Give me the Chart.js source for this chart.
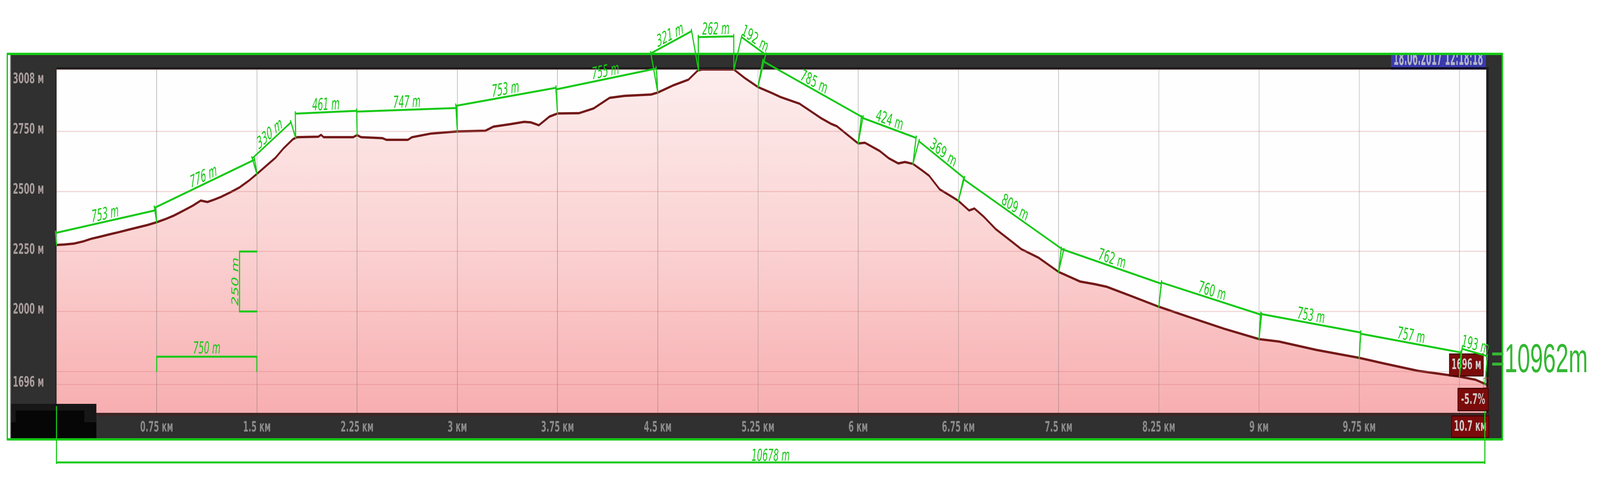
<!DOCTYPE html>
<html>
<head>
<meta charset="utf-8">
<title>Профиль высот</title>
<script src="https://cdn.jsdelivr.net/npm/chart.js@4.4.1/dist/chart.umd.min.js"></script>
<style>
  html, body { margin: 0; padding: 0; background: #fff; overflow: hidden; }
  canvas { display: block; }
</style>
</head>
<body>
<!-- o desenho é feito em 7226x1229 e esticado para a janela real -->
<canvas id="perfil" width="7226" height="1229" style="width:100vw;height:100vh"></canvas>
<script>
// ================= DADOS =================
// distância (km) e altitude (m) do perfil
const distKm = [0, 0.06, 0.13, 0.2, 0.26, 0.33, 0.4, 0.47, 0.54, 0.62, 0.68, 0.75, 0.82, 0.88, 0.95,
  1.02, 1.08, 1.13, 1.18, 1.23, 1.3, 1.37, 1.44, 1.5, 1.57, 1.64, 1.7, 1.77, 1.8, 1.96, 1.98, 2.0,
  2.22, 2.25, 2.28, 2.44, 2.47, 2.63, 2.66, 2.8, 3.0, 3.21, 3.27, 3.39, 3.5, 3.55, 3.61, 3.69, 3.75,
  3.91, 4.02, 4.14, 4.25, 4.45, 4.5, 4.62, 4.73, 4.8, 4.83, 5.07, 5.15, 5.25, 5.35, 5.42, 5.56, 5.67,
  5.72, 5.8, 5.84, 5.92, 6.0, 6.05, 6.16, 6.23, 6.3, 6.35, 6.41, 6.48, 6.53, 6.61, 6.69, 6.75, 6.83,
  6.87, 6.94, 7.03, 7.15, 7.22, 7.35, 7.5, 7.66, 7.77, 7.86, 8.05, 8.25, 8.46, 8.74, 9.0, 9.15, 9.43,
  9.75, 9.94, 10.19, 10.5, 10.62, 10.7];
const altM = [2277, 2279, 2283, 2292, 2303, 2312, 2322, 2331, 2341, 2352, 2360, 2372, 2386, 2400, 2420,
  2441, 2462, 2456, 2466, 2477, 2496, 2517, 2545, 2573, 2607, 2641, 2680, 2718, 2726, 2728, 2736, 2726,
  2726, 2735, 2726, 2722, 2715, 2715, 2726, 2741, 2750, 2753, 2770, 2780, 2790, 2788, 2776, 2812, 2825,
  2826, 2846, 2890, 2898, 2904, 2912, 2943, 2966, 3004, 3008, 3008, 2973, 2935, 2911, 2893, 2866, 2825,
  2806, 2781, 2772, 2736, 2700, 2703, 2669, 2638, 2617, 2623, 2615, 2587, 2566, 2509, 2482, 2461, 2421,
  2429, 2395, 2343, 2291, 2260, 2224, 2165, 2125, 2114, 2103, 2063, 2020, 1980, 1928, 1885, 1875, 1840,
  1807, 1783, 1753, 1729, 1716, 1696];

// ticks dos eixos
const xTicks = [0, 0.75, 1.5, 2.25, 3, 3.75, 4.5, 5.25, 6, 6.75, 7.5, 8.25, 9, 9.75, 10.5];
const yTicks = [1696, 1750, 2000, 2250, 2500, 2750, 3008];
const yRotulos = [1696, 2000, 2250, 2500, 2750, 3008];

// trechos medidos (verde): pontos no perfil (km) e comprimentos
const trechoKm = [0, 0.75, 1.5, 1.79, 2.25, 3, 3.75, 4.5, 4.805, 5.07, 5.25, 6, 6.41, 6.75, 7.5, 8.25, 9, 9.75, 10.5, 10.69];
const trechoRotulos = ['753 m', '776 m', '330 m', '461 m', '747 m', '753 m', '755 m', '321 m', '262 m', '192 m',
  '785 m', '424 m', '369 m', '809 m', '762 m', '760 m', '753 m', '757 m', '193 m'];

// escalas de referência desenhadas à mão
const escalaVertM = [2000, 2250];
const escalaHorizKm = [0.75, 1.5];

const totalPlano = '10678 m';
const total3d = '=10962m';
const altFinal = '1696 м';
const inclinacao = '-5.7%';
const distFinal = '10.7 км';
const dataHora = '18.06.2017 12:18:18';

// ================= ESTILO =================
// afastamento (px) de cada linha de cota em relação ao perfil
const afastamento = [31, 38, 45, 62, 60, 66, 62, 105, 85, 90, 70, 68, 64, 60, 60, 63, 65, 62, 72];
const VERDE = '#16c916';
const FONTE_UI = '"DejaVu Sans Condensed", "DejaVu Sans", sans-serif';
const FONTE_COTA = '"Liberation Sans Narrow", "DejaVu Sans Condensed", sans-serif';

function altNoKm(km) {
  for (let i = 1; i < distKm.length; i++) {
    if (km <= distKm[i]) {
      const t = (km - distKm[i - 1]) / (distKm[i] - distKm[i - 1]);
      return altM[i - 1] + t * (altM[i] - altM[i - 1]);
    }
  }
  return altM[altM.length - 1];
}

function fmtKm(v) {
  return String(+v.toFixed(2));
}

// texto com largura forçada (fonte do jogo é bem estreita)
function textoLargura(ctx, txt, x, y, escala) {
  ctx.save();
  ctx.translate(x, y);
  ctx.scale(escala, 1);
  ctx.fillText(txt, 0, 0);
  ctx.restore();
}

function caixaVermelha(ctx, x0, y0, x1, y1, txt) {
  ctx.fillStyle = '#7c0b0b';
  ctx.fillRect(x0, y0, x1 - x0, y1 - y0);
  ctx.strokeStyle = '#470202';
  ctx.lineWidth = 3;
  ctx.strokeRect(x0, y0, x1 - x0, y1 - y0);
  ctx.fillStyle = '#cfcaca';
  ctx.font = 'bold 38px ' + FONTE_UI;
  ctx.textAlign = 'center';
  ctx.textBaseline = 'middle';
  const w = ctx.measureText(txt).width;
  const esc = Math.min(1, (x1 - x0 - 12) / w);
  textoLargura(ctx, txt, (x0 + x1) / 2, (y0 + y1) / 2 + 1, esc);
}

// linha de cota paralela ao trecho, com as duas linhas de chamada
function cota(ctx, p0, p1, d, txt) {
  const dx = p1.x - p0.x, dy = p1.y - p0.y;
  const len = Math.hypot(dx, dy);
  const nx = dy / len, ny = -dx / len;
  const a = { x: p0.x + nx * d, y: p0.y + ny * d };
  const b = { x: p1.x + nx * d, y: p1.y + ny * d };
  ctx.beginPath();
  ctx.moveTo(p0.x, p0.y);
  ctx.lineTo(a.x + nx * 4, a.y + ny * 4);
  ctx.moveTo(p1.x, p1.y);
  ctx.lineTo(b.x + nx * 4, b.y + ny * 4);
  ctx.moveTo(a.x, a.y);
  ctx.lineTo(b.x, b.y);
  ctx.stroke();

  ctx.save();
  ctx.translate((a.x + b.x) / 2 + nx * 6, (a.y + b.y) / 2 + ny * 6);
  ctx.rotate(Math.atan2(dy, dx));
  ctx.fillText(txt, 0, 0);
  ctx.restore();
}

// ================= MOLDURA E ANOTAÇÕES =================
const moldura = {
  id: 'moldura',
  beforeDraw(chart) {
    const ctx = chart.ctx;
    const a = chart.chartArea;
    ctx.save();
    ctx.fillStyle = '#ffffff';
    ctx.fillRect(0, 0, chart.width, chart.height);

    // painel escuro
    ctx.fillStyle = '#8f8f8f';
    ctx.fillRect(45, 138, 4, 988);
    ctx.fillStyle = '#2f302f';
    ctx.fillRect(49, 138, 6736, 988);

    // área do gráfico
    ctx.fillStyle = '#fefefe';
    ctx.fillRect(a.left, a.top, a.right - a.left, a.bottom - a.top);

    // bordas escuras
    ctx.fillStyle = '#1c1c1c';
    ctx.fillRect(a.left, a.top - 6, a.right - a.left + 10, 6);
    ctx.fillRect(a.right, a.top - 6, 11, a.bottom - a.top + 12);
    ctx.fillStyle = '#2a1e1e';
    ctx.fillRect(a.left - 5, a.top, 5, a.bottom - a.top);
    ctx.restore();
  },
  afterDraw(chart) {
    const ctx = chart.ctx;
    const a = chart.chartArea;
    const xs = chart.scales.x, ys = chart.scales.y;
    ctx.save();

    // faixa abaixo do gráfico
    ctx.fillStyle = '#3b2626';
    ctx.fillRect(a.left, a.bottom, a.right - a.left + 10, 8);

    // caixa preta no canto inferior esquerdo
    ctx.fillStyle = '#171717';
    ctx.fillRect(49, 1034, 386, 90);
    ctx.fillStyle = '#060606';
    ctx.fillRect(71, 1051, 310, 32);
    ctx.fillRect(49, 1081, 386, 43);

    // rótulos do eixo X
    ctx.font = 'bold 38px ' + FONTE_UI;
    ctx.textAlign = 'center';
    ctx.textBaseline = 'middle';
    ctx.fillStyle = '#8b8b8b';
    const escX = 149 / ctx.measureText('5.25 км').width;
    xs.ticks.forEach(t => {
      if (t.value <= 0 || t.value > 10) return;
      textoLargura(ctx, fmtKm(t.value) + ' км', xs.getPixelForValue(t.value), 1095, escX);
    });

    // rótulos do eixo Y
    ctx.textAlign = 'left';
    ctx.fillStyle = '#a99c9c';
    const escY = 141 / ctx.measureText('3008 м').width;
    yRotulos.forEach(v => {
      const py = Math.max(ys.getPixelForValue(v) - 4, a.top + 25);
      textoLargura(ctx, v + ' м', 58, py, escY);
    });

    // data/hora (cortada no topo)
    ctx.fillStyle = '#3a3aae';
    ctx.fillRect(6282, 140, 429, 32);
    ctx.fillStyle = '#0b0b2a';
    ctx.fillRect(6282, 172, 429, 6);
    ctx.save();
    ctx.beginPath();
    ctx.rect(6282, 140, 429, 32);
    ctx.clip();
    ctx.fillStyle = '#b4b4c6';
    ctx.font = 'bold 54px ' + FONTE_UI;
    ctx.textAlign = 'left';
    ctx.textBaseline = 'alphabetic';
    textoLargura(ctx, dataHora, 6293, 166, 405 / ctx.measureText(dataHora).width);
    ctx.restore();

    // marcadores do ponto final
    const ex = xs.getPixelForValue(distKm[distKm.length - 1]);
    const ey = ys.getPixelForValue(altM[altM.length - 1]);
    ctx.strokeStyle = 'rgba(200,40,40,0.7)';
    ctx.lineWidth = 2;
    ctx.strokeRect(ex - 13, ey - 16, 25, 24);
    caixaVermelha(ctx, ex - 166, ey - 78, ex - 13, ey - 22, altFinal);
    caixaVermelha(ctx, ex - 128, ey + 10, ex + 10, ey + 67, inclinacao);
    caixaVermelha(ctx, ex - 156, 1065, ex + 12, 1120, distFinal);

    // ---- anotações verdes ----
    ctx.strokeStyle = VERDE;
    ctx.fillStyle = VERDE;
    ctx.lineWidth = 5;
    ctx.lineCap = 'round';
    ctx.lineJoin = 'round';
    ctx.font = 'italic 43px ' + FONTE_COTA;
    ctx.textAlign = 'center';
    ctx.textBaseline = 'alphabetic';

    const pts = trechoKm.map(km => ({ x: xs.getPixelForValue(km), y: ys.getPixelForValue(altNoKm(km)) }));
    for (let i = 0; i < trechoRotulos.length; i++) {
      cota(ctx, pts[i], pts[i + 1], afastamento[i], trechoRotulos[i]);
    }

    // escala vertical (250 m)
    const vx = xs.getPixelForValue(1.37);
    const vTick = xs.getPixelForValue(escalaHorizKm[1]);
    const vy0 = ys.getPixelForValue(escalaVertM[0]);
    const vy1 = ys.getPixelForValue(escalaVertM[1]);
    ctx.beginPath();
    ctx.moveTo(vTick, vy0); ctx.lineTo(vx, vy0); ctx.lineTo(vx, vy1); ctx.lineTo(vTick, vy1);
    ctx.stroke();
    ctx.save();
    ctx.translate(vx - 6, (vy0 + vy1) / 2);
    ctx.rotate(-Math.PI / 2);
    ctx.fillText((escalaVertM[1] - escalaVertM[0]) + ' m', 0, 0);
    ctx.restore();

    // escala horizontal (750 m)
    const hx0 = xs.getPixelForValue(escalaHorizKm[0]);
    const hx1 = xs.getPixelForValue(escalaHorizKm[1]);
    const hy = ys.getPixelForValue(1812);
    const hyT = ys.getPixelForValue(1752);
    ctx.beginPath();
    ctx.moveTo(hx0, hyT); ctx.lineTo(hx0, hy); ctx.lineTo(hx1, hy); ctx.lineTo(hx1, hyT);
    ctx.stroke();
    ctx.fillText(Math.round((escalaHorizKm[1] - escalaHorizKm[0]) * 1000) + ' m', (hx0 + hx1) / 2, hy - 8);

    // moldura verde
    ctx.lineWidth = 6;
    ctx.lineCap = 'butt';
    ctx.strokeRect(33, 138, 6752, 987);

    // distância total em planta
    const bx0 = pts[0].x, bx1 = pts[pts.length - 1].x;
    ctx.lineWidth = 5;
    ctx.beginPath();
    ctx.moveTo(bx0, 1040); ctx.lineTo(bx0, 1188);
    ctx.moveTo(bx1, 1052); ctx.lineTo(bx1, 1188);
    ctx.moveTo(bx0, 1184); ctx.lineTo(bx1, 1184);
    ctx.stroke();
    ctx.fillText(totalPlano, (bx0 + bx1) / 2, 1180);

    // soma dos trechos
    ctx.fillStyle = '#34b834';
    ctx.font = '104px "Liberation Sans", Arial, sans-serif';
    ctx.textAlign = 'left';
    ctx.fillText(total3d, 6734, 953);

    ctx.restore();
  }
};

// ================= GRÁFICO =================
const ctx = document.getElementById('perfil');

new Chart(ctx.getContext('2d'), {
  type: 'line',
  data: {
    datasets: [{
      data: distKm.map((km, i) => ({ x: km, y: altM[i] })),
      borderColor: '#741919',
      borderWidth: 6,
      pointRadius: 0,
      tension: 0,
      fill: 'start',
      backgroundColor: (c) => {
        const area = c.chart.chartArea;
        if (!area) return '#fbd0d0';
        const g = c.chart.ctx.createLinearGradient(0, area.top, 0, area.bottom);
        g.addColorStop(0, '#fdeded');
        g.addColorStop(0.5, '#fbd3d3');
        g.addColorStop(1, '#f8aeb0');
        return g;
      }
    }]
  },
  options: {
    responsive: false,
    animation: false,
    devicePixelRatio: 1,
    layout: { padding: { left: 255, right: 514, top: 178, bottom: 172 } },
    plugins: {
      legend: { display: false },
      tooltip: { enabled: false }
    },
    scales: {
      x: {
        type: 'linear',
        min: 0,
        max: 10.7,
        afterBuildTicks: (s) => { s.ticks = xTicks.map(v => ({ value: v })); },
        afterFit: (s) => { s.height = 0; },
        ticks: { display: false },
        border: { display: false },
        grid: { color: 'rgba(110,110,110,0.42)', lineWidth: 3, drawTicks: false, z: 1 }
      },
      y: {
        min: 1578,
        max: 3008,
        afterBuildTicks: (s) => { s.ticks = yTicks.map(v => ({ value: v })); },
        afterFit: (s) => { s.width = 0; },
        ticks: { display: false },
        border: { display: false },
        grid: { color: 'rgba(215,120,120,0.28)', lineWidth: 3, drawTicks: false, z: 1 }
      }
    }
  },
  plugins: [moldura]
});
</script>
</body>
</html>
